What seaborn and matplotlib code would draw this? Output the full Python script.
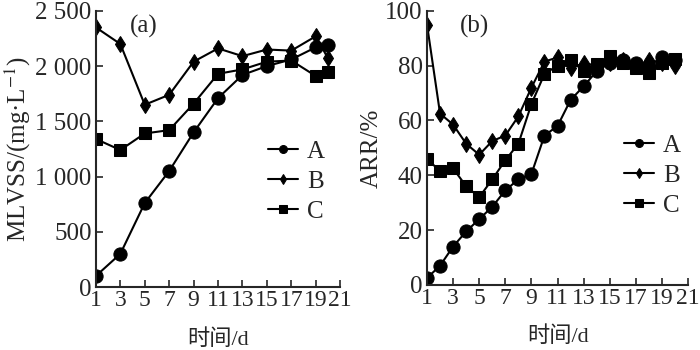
import pandas as pd
import seaborn as sns
import matplotlib.pyplot as plt

sns.set_style("ticks")
plt.rcParams['font.family'] = ['Liberation Serif', 'Noto Sans CJK SC']
plt.rcParams['mathtext.fontset'] = 'stix'

# (a) MLVSS
days_a = [1, 3, 5, 7, 9, 11, 13, 15, 17, 19, 20]
mlvss_A = [100, 300, 760, 1050, 1400, 1710, 1920, 2000, 2060, 2170, 2190]
mlvss_B = [2350, 2200, 1650, 1740, 2040, 2160, 2090, 2150, 2140, 2270, 2070]
mlvss_C = [1340, 1240, 1390, 1420, 1660, 1930, 1970, 2040, 2050, 1910, 1950]

# (b) ARR
days_b = list(range(1, 21))
arr_A = [2.5, 7, 14, 19.5, 24, 28.5, 34.5, 38.5, 40.5, 54.5, 58, 67.5, 72.5, 78, 81, 82, 81, 80, 83, 82]
arr_B = [95, 62.5, 58.5, 51.5, 47.5, 52.5, 54.5, 61.5, 72, 81.5, 83, 79, 81, 80, 81, 82, 80, 82, 81, 80]
arr_C = [46, 41.5, 42.5, 36, 32, 38.5, 45.5, 51.5, 66, 77, 80, 82, 78, 80.5, 83.5, 81, 79, 77.5, 81, 82.5]

labels = ["A", "B", "C"]
markers = {"A": "o", "B": "d", "C": "s"}
msizes = {"A": 9.5, "B": 8, "C": 9}

fig = plt.figure(figsize=(7, 3.5), dpi=100)
ax1 = fig.add_axes([0.137, 0.18, 0.349, 0.789])
ax2 = fig.add_axes([0.61, 0.186, 0.373, 0.783])


def draw(ax, x, series, leg_at):
    for lab, vals in zip(labels, series):
        df = pd.DataFrame({"x": x, "y": vals})
        sns.lineplot(data=df, x="x", y="y", ax=ax, color="black", lw=1.5,
                     marker=markers[lab], markersize=msizes[lab],
                     markeredgecolor="black", label=lab)
    ax.set_xlim(1, 21)
    ax.set_xticks(range(1, 22, 2))
    ax.tick_params(direction="in", length=5, width=1.2, labelsize=18, pad=3)
    ax.tick_params(axis="x", pad=2, labelsize=17)
    for s in ["left", "bottom"]:
        ax.spines[s].set_linewidth(1.5)
    sns.despine(ax=ax)
    ax.set_xlabel("时间/d", fontsize=16, labelpad=13)
    ax.legend(frameon=False, fontsize=18, markerscale=0.6,
              handlelength=1.2, handletextpad=0.35, labelspacing=0.3,
              loc="upper left", bbox_to_anchor=leg_at,
              borderaxespad=0, borderpad=0)


draw(ax1, days_a, [mlvss_A, mlvss_B, mlvss_C], (0.705, 0.53))
ax1.set_ylim(0, 2500)
ax1.set_yticks([0, 500, 1000, 1500, 2000, 2500])
ax1.set_yticklabels(["0", "500", "1 000", "1 500", "2 000", "2 500"])
ax1.set_ylabel("MLVSS/(mg·L$^{-1}$)", fontsize=18, labelpad=2)
ax1.text(0.14, 0.985, "(a)", transform=ax1.transAxes, fontsize=18, va="top")

draw(ax2, days_b, [arr_A, arr_B, arr_C], (0.755, 0.55))
ax2.set_ylim(0, 100)
ax2.set_yticks([0, 20, 40, 60, 80, 100])
ax2.set_ylabel("ARR/%", fontsize=18, labelpad=2)
ax2.text(0.125, 0.985, "(b)", transform=ax2.transAxes, fontsize=18, va="top")

fig.savefig("out.png", dpi=100)
